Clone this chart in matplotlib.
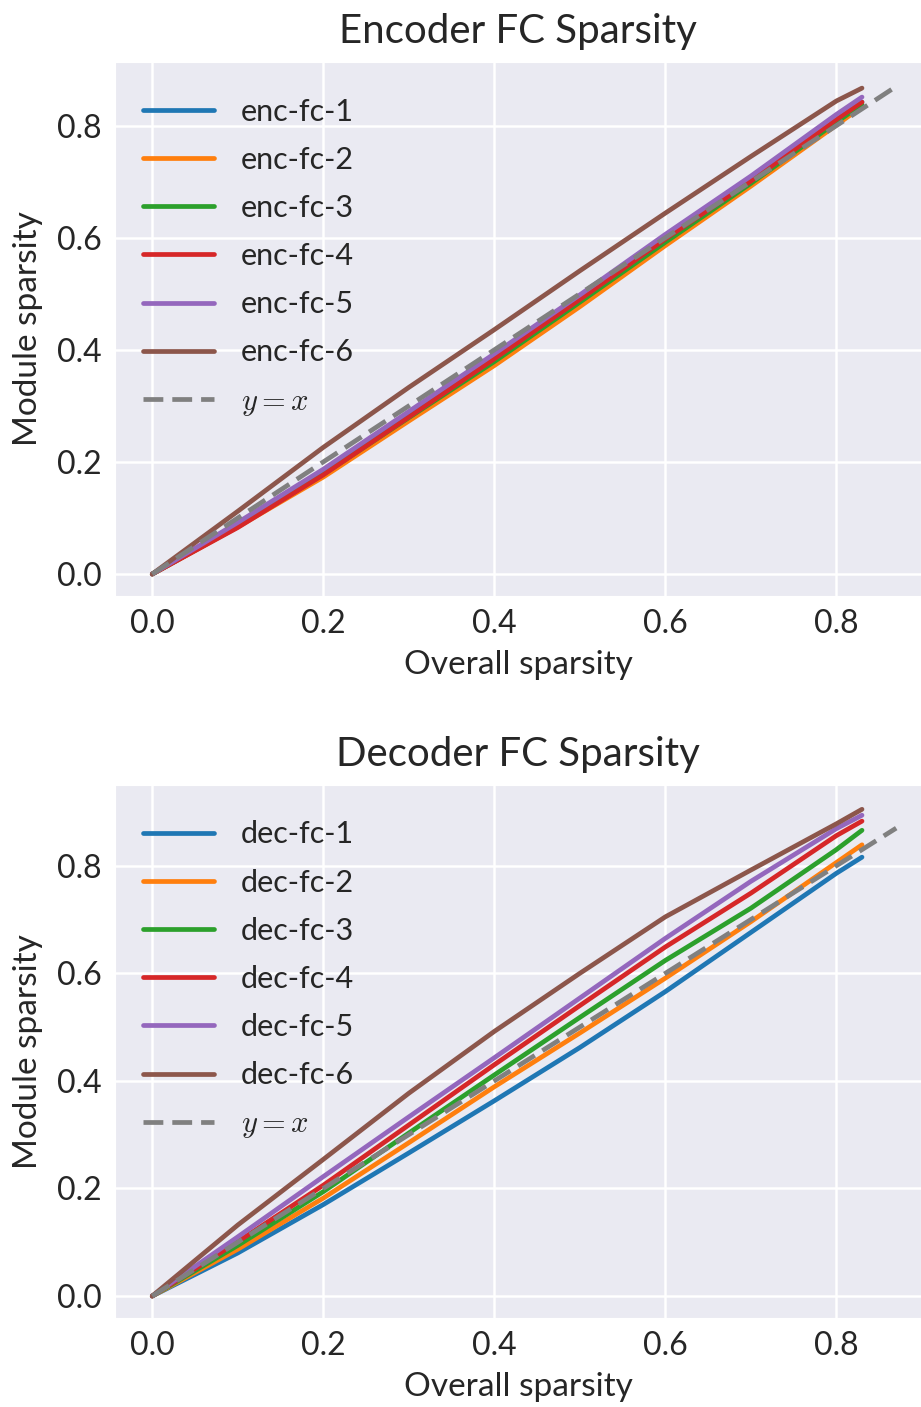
import matplotlib
matplotlib.use("Agg")
import matplotlib.pyplot as plt
import seaborn as sns

# overall sparsity at each pruning step
overall = [0.0, 0.1, 0.2, 0.3, 0.4, 0.5, 0.6, 0.7, 0.8, 0.83]

enc_names = ["enc-fc-1", "enc-fc-2", "enc-fc-3", "enc-fc-4", "enc-fc-5", "enc-fc-6"]
enc_fc_1 = [0.0, 0.086, 0.180, 0.282, 0.384, 0.490, 0.597, 0.702, 0.810, 0.842]
enc_fc_2 = [0.0, 0.084, 0.173, 0.273, 0.372, 0.477, 0.586, 0.692, 0.801, 0.834]
enc_fc_3 = [0.0, 0.085, 0.178, 0.279, 0.379, 0.485, 0.592, 0.697, 0.806, 0.838]
enc_fc_4 = [0.0, 0.083, 0.177, 0.280, 0.384, 0.490, 0.598, 0.701, 0.811, 0.842]
enc_fc_5 = [0.0, 0.092, 0.187, 0.290, 0.393, 0.498, 0.606, 0.710, 0.820, 0.851]
enc_fc_6 = [0.0, 0.112, 0.226, 0.333, 0.436, 0.541, 0.644, 0.745, 0.844, 0.867]

dec_names = ["dec-fc-1", "dec-fc-2", "dec-fc-3", "dec-fc-4", "dec-fc-5", "dec-fc-6"]
dec_fc_1 = [0.0, 0.080, 0.170, 0.266, 0.363, 0.462, 0.566, 0.676, 0.786, 0.816]
dec_fc_2 = [0.0, 0.087, 0.182, 0.285, 0.389, 0.489, 0.591, 0.696, 0.806, 0.839]
dec_fc_3 = [0.0, 0.094, 0.194, 0.303, 0.411, 0.518, 0.624, 0.721, 0.830, 0.866]
dec_fc_4 = [0.0, 0.101, 0.206, 0.318, 0.430, 0.540, 0.649, 0.749, 0.856, 0.883]
dec_fc_5 = [0.0, 0.110, 0.222, 0.333, 0.443, 0.554, 0.665, 0.771, 0.869, 0.894]
dec_fc_6 = [0.0, 0.132, 0.254, 0.377, 0.492, 0.600, 0.705, 0.792, 0.878, 0.905]

# reference diagonal
diag = [0.0, 0.87]

sns.set_style("darkgrid")
plt.rcParams['font.family'] = ['Lato', 'DejaVu Sans']
plt.rcParams['mathtext.fontset'] = 'cm'
plt.rcParams['axes.unicode_minus'] = False


def draw_panel(ax, names, series, title, ymax_data):
    palette = sns.color_palette("tab10")
    for i, (name, vals) in enumerate(zip(names, series)):
        ax.plot(overall, vals, color=palette[i], lw=3.4, label=name,
                solid_capstyle="round", solid_joinstyle="round")
    ax.plot(diag, diag, color="gray", lw=3.4, dashes=(4.2, 1.9), label=r"$y=x$")

    ax.set_title(title, fontsize=29, pad=14)
    ax.set_xlabel("Overall sparsity", fontsize=24, labelpad=8)
    ax.set_ylabel("Module sparsity", fontsize=24, labelpad=10)
    ax.tick_params(labelsize=23, pad=6)
    ax.set_xticks([0.0, 0.2, 0.4, 0.6, 0.8])
    ax.set_yticks([0.0, 0.2, 0.4, 0.6, 0.8])
    ax.set_xlim(-0.0435, 0.899)
    ax.set_ylim(-0.045 * ymax_data, 1.05 * ymax_data)
    ax.grid(color="white", lw=1.8)

    ax.legend(loc="upper left", bbox_to_anchor=(0.0, 0.985), fontsize=22,
              frameon=False, handlelength=2.35, labelspacing=0.66,
              borderaxespad=0.5, handletextpad=0.87)


fig = plt.figure(figsize=(9.21, 14.07), dpi=100)
ax1 = fig.add_axes([0.1249, 0.5764, 0.8751, 0.3795])
ax2 = fig.add_axes([0.1249, 0.0633, 0.8751, 0.3788])

draw_panel(ax1, enc_names, [enc_fc_1, enc_fc_2, enc_fc_3, enc_fc_4, enc_fc_5, enc_fc_6],
           "Encoder FC Sparsity", 0.87)
draw_panel(ax2, dec_names, [dec_fc_1, dec_fc_2, dec_fc_3, dec_fc_4, dec_fc_5, dec_fc_6],
           "Decoder FC Sparsity", 0.905)

fig.savefig("out.png", dpi=100)
